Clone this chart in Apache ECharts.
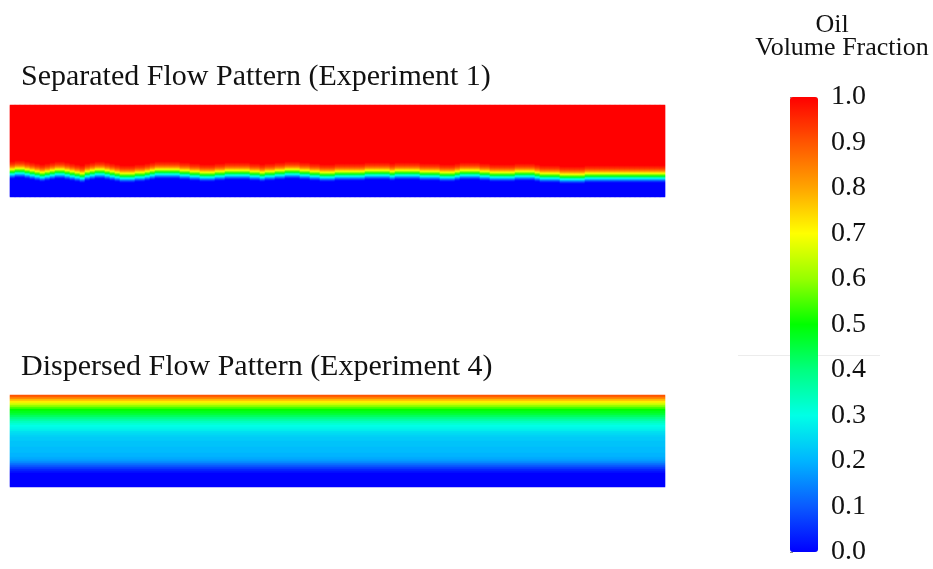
<!DOCTYPE html>
<html>
<head>
<meta charset="utf-8">
<script src="https://cdn.jsdelivr.net/npm/echarts@6/dist/echarts.min.js"></script>
<style>
html,body{margin:0;padding:0;background:#fff;}
#chart{width:933px;height:569px;}
</style>
</head>
<body>
<div id="chart"></div>
<script>
// ---- Data ----
// Experiment 1: row (px from strip top) of the oil/water interface per 5px column
var interfaceRowExp1 = [
  66,65,65,66,67,68,69,68,67,66,66,67,68,69,70,68,67,66,66,67,
  68,69,70,70,70,69,69,68,67,66,66,66,66,66,67,67,68,68,69,69,
  69,68,68,67,67,67,67,67,68,68,69,68,68,67,67,66,66,66,67,67,
  68,68,69,69,69,68,68,68,68,68,68,67,67,67,67,67,68,67,67,67,
  67,67,68,68,68,68,69,69,69,68,67,67,67,67,68,68,69,69,69,69,
  69,68,68,68,68,69,70,70,70,70,71,71,71,71,71,70,70,70,70,70,
  70,70,70,70,70,70,70,70,70,70,70];
// Oil volume fraction across the interface, offsets -9 .. +8 rows
var interfaceProfile = [0.98,0.96,0.94,0.91,0.87,0.82,0.76,0.69,0.62,0.55,0.47,0.38,0.3,0.22,0.14,0.07,0.02,0.0];
var profileStart = -9;
var rowsExp1 = 92;
// Experiment 4: vertical oil fraction profile (top to bottom, 46 rows)
var profileExp4 = [0.9,0.85,0.78,0.72,0.66,0.6,0.55,0.5,0.48,0.46,
  0.43,0.4,0.37,0.34,0.32,0.3,0.29,0.28,0.26,0.25,
  0.24,0.23,0.23,0.22,0.22,0.22,0.21,0.21,0.21,0.2,
  0.2,0.19,0.18,0.16,0.13,0.1,0.07,0.04,0.02,0.0,
  0.0,0.0,0.0,0.0,0.0,0.0];
// Colour bar
var colorStops = ['#0000ff','#0a5aff','#00b4ff','#00ffe6','#00ff80','#00ff00','#96ff00','#ffff00','#ffa500','#ff5500','#ff0000'];
var titleExp1 = 'Separated Flow Pattern (Experiment 1)';
var titleExp4 = 'Dispersed Flow Pattern (Experiment 4)';

// ---- Build heatmap cells ----
var colsExp1 = interfaceRowExp1.map(function(_, i){ return 'c' + i; });
var rowCatsExp1 = [];
for (var r = 0; r < rowsExp1; r++) rowCatsExp1.push('r' + r);
var dataExp1 = [];
interfaceRowExp1.forEach(function(ir, c){
  for (var r = 0; r < rowsExp1; r++) {
    var k = r - ir - profileStart;
    var v = k < 0 ? 1.0 : (k >= interfaceProfile.length ? 0.0 : interfaceProfile[k]);
    dataExp1.push([c, r, v]);
  }
});
var rowCatsExp4 = profileExp4.map(function(_, i){ return 'r' + i; });
var dataExp4 = profileExp4.map(function(v, r){ return [0, r, v]; });

var serif = 'Liberation Serif';
var chart = echarts.init(document.getElementById('chart'));
chart.setOption({
  animation: false,
  backgroundColor: '#fff',
  title: [
    {text: titleExp1, left: 21, top: 62, padding: 0, textStyle: {fontFamily: serif, fontSize: 30, fontWeight: 'normal', color: '#111'}},
    {text: titleExp4, left: 21, top: 352, padding: 0, textStyle: {fontFamily: serif, fontSize: 30, fontWeight: 'normal', color: '#111'}},
    {text: 'Oil', left: 832, textAlign: 'center', top: 12, padding: 0, textStyle: {fontFamily: serif, fontSize: 26, fontWeight: 'normal', color: '#111'}},
    {text: 'Volume Fraction', left: 842, textAlign: 'center', top: 35, padding: 0, textStyle: {fontFamily: serif, fontSize: 26, fontWeight: 'normal', color: '#111'}}
  ],
  grid: [
    {left: 10, top: 105, width: 655, height: 92},
    {left: 10, top: 395, width: 655, height: 92},
    {left: 790, top: 97, width: 28, height: 455}
  ],
  xAxis: [
    {type: 'category', gridIndex: 0, data: colsExp1, show: false},
    {type: 'category', gridIndex: 1, data: ['c0'], show: false},
    {type: 'value', gridIndex: 2, min: 0, max: 1, show: false}
  ],
  yAxis: [
    {type: 'category', gridIndex: 0, data: rowCatsExp1, inverse: true, show: false},
    {type: 'category', gridIndex: 1, data: rowCatsExp4, inverse: true, show: false},
    {type: 'value', gridIndex: 2, position: 'right', min: 0, max: 1, interval: 0.1,
      axisLine: {show: false}, splitLine: {show: false},
      axisTick: {show: true, length: 3, inside: false, lineStyle: {color: '#888'}},
      axisLabel: {margin: 13, padding: [5, 0, 0, 0], fontFamily: serif, fontSize: 28, color: '#111', formatter: function(v){ return v.toFixed(1); }}}
  ],
  visualMap: {
    type: 'continuous', min: 0, max: 1, orient: 'vertical',
    left: 790, top: 97, itemWidth: 28, itemHeight: 455, padding: 0,
    calculable: false, text: null, showLabel: false, seriesIndex: [0, 1],
    inRange: {color: colorStops}
  },
  graphic: [
    {type: 'line', shape: {x1: 738, y1: 355.5, x2: 880, y2: 355.5}, style: {stroke: '#ececec', lineWidth: 1}, silent: true}
  ],
  series: [
    {type: 'heatmap', xAxisIndex: 0, yAxisIndex: 0, data: dataExp1, progressive: 0, emphasis: {disabled: true}, itemStyle: {borderWidth: 0}},
    {type: 'heatmap', xAxisIndex: 1, yAxisIndex: 1, data: dataExp4, progressive: 0, emphasis: {disabled: true}, itemStyle: {borderWidth: 0}}
  ]
});
</script>
</body>
</html>
